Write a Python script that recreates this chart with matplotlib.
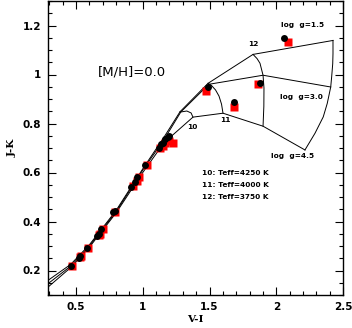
import matplotlib
matplotlib.use("Agg")
import matplotlib.pyplot as plt
from matplotlib.ticker import MultipleLocator

# model tracks (log g = 1.5, 3.0, 4.5)
g15_vi = [0.20, 0.46, 0.60, 0.80, 1.00, 1.16, 1.279, 1.489, 1.826, 2.425]
g15_jk = [0.125, 0.225, 0.305, 0.445, 0.615, 0.745, 0.848, 0.964, 1.082, 1.139]
g30_vi = [0.20, 0.46, 0.60, 0.80, 1.00, 1.16, 1.285, 1.495, 1.901, 2.408]
g30_jk = [0.108, 0.218, 0.300, 0.440, 0.610, 0.735, 0.847, 0.960, 0.997, 0.949]
g45_vi = [0.20, 0.46, 0.60, 0.80, 1.00, 1.16, 1.376, 1.601, 1.901, 2.215]
g45_jk = [0.090, 0.212, 0.295, 0.435, 0.600, 0.722, 0.826, 0.842, 0.789, 0.692]

# isotherms
arc10_vi = [1.279, 1.285, 1.33, 1.362, 1.376]
arc10_jk = [0.848, 0.847, 0.851, 0.843, 0.826]
arc11_vi = [1.489, 1.515, 1.545, 1.571, 1.590, 1.601]
arc11_jk = [0.964, 0.955, 0.937, 0.912, 0.879, 0.842]
arc12_vi = [1.826, 1.856, 1.878, 1.901, 1.908, 1.907, 1.901]
arc12_jk = [1.082, 1.065, 1.046, 0.997, 0.945, 0.870, 0.789]
arcend_vi = [2.425, 2.425, 2.423, 2.415, 2.408, 2.382, 2.352, 2.29, 2.215]
arcend_jk = [1.139, 1.085, 1.044, 0.99, 0.949, 0.882, 0.827, 0.76, 0.692]

# observed / comparison points
circ_vi = [0.46, 0.52, 0.53, 0.58, 0.66, 0.67, 0.69, 0.78, 0.79, 0.91, 0.94, 0.96,
           1.02, 1.12, 1.14, 1.15, 1.17, 1.19, 1.20, 1.49, 1.68, 1.88, 2.06]
circ_jk = [0.22, 0.253, 0.258, 0.29, 0.34, 0.35, 0.37, 0.437, 0.443, 0.54, 0.56, 0.58,
           0.63, 0.70, 0.715, 0.72, 0.735, 0.745, 0.75, 0.948, 0.887, 0.964, 1.147]
sq_vi = [0.47, 0.53, 0.54, 0.59, 0.67, 0.68, 0.70, 0.79, 0.93, 0.96, 0.97, 1.03,
         1.13, 1.15, 1.17, 1.20, 1.23, 1.47, 1.68, 1.86, 2.09]
sq_jk = [0.22, 0.255, 0.26, 0.29, 0.345, 0.35, 0.37, 0.44, 0.545, 0.565, 0.58, 0.63,
         0.70, 0.71, 0.72, 0.73, 0.72, 0.932, 0.867, 0.96, 1.131]

node_labels = ["10", "11", "12"]
node_lab_vi = [1.369, 1.616, 1.83]
node_lab_jk = [0.785, 0.814, 1.125]
legend_lines = ["10: Teff=4250 K", "11: Teff=4000 K", "12: Teff=3750 K"]

fig = plt.figure(figsize=(3.52, 3.28), dpi=100)
ax = fig.add_axes([48/352, 33/328, 295/352, 294/328])

lw = 0.7
for vi, jk in [(g15_vi, g15_jk), (g30_vi, g30_jk), (g45_vi, g45_jk),
               (arc10_vi, arc10_jk), (arc11_vi, arc11_jk), (arc12_vi, arc12_jk),
               (arcend_vi, arcend_jk)]:
    ax.plot(vi, jk, color="black", lw=lw, zorder=2)

ax.plot(sq_vi, sq_jk, ls="none", marker="s", ms=6.2, color="#ff0000", mec="none", zorder=3)
ax.plot(circ_vi, circ_jk, ls="none", marker="o", ms=5.0, color="black", mec="none", zorder=4)

ax.set_xlim(0.29, 2.5)
ax.set_ylim(0.1, 1.3)

fs_small = 5.3
for t, x, y in zip(node_labels, node_lab_vi, node_lab_jk):
    ax.text(x, y, t, fontsize=fs_small, fontweight="bold", ha="center", va="center")

ax.text(2.355, 1.2, "log  g=1.5", fontsize=fs_small, fontweight="bold", ha="right", va="center")
ax.text(2.19, 0.907, "log  g=3.0", fontsize=fs_small, fontweight="bold", ha="center", va="center")
ax.text(2.12, 0.667, "log  g=4.5", fontsize=fs_small, fontweight="bold", ha="center", va="center")

for i, t in enumerate(legend_lines):
    ax.text(1.444, 0.598 - i * 0.049, t, fontsize=fs_small, fontweight="bold", ha="left", va="center")

ax.text(0.66, 1.01, "[M/H]=0.0", fontsize=9.5, ha="left", va="center")

ax.xaxis.set_major_locator(MultipleLocator(0.5))
ax.xaxis.set_minor_locator(MultipleLocator(0.1))
ax.yaxis.set_major_locator(MultipleLocator(0.2))
ax.yaxis.set_minor_locator(MultipleLocator(0.05))
ax.set_xticks([0.5, 1.0, 1.5, 2.0, 2.5])
ax.set_xticklabels(["0.5", "1", "1.5", "2", "2.5"])
ax.set_yticks([0.2, 0.4, 0.6, 0.8, 1.0, 1.2])
ax.set_yticklabels(["0.2", "0.4", "0.6", "0.8", "1", "1.2"])
ax.tick_params(which="both", direction="in", top=True, right=True, width=0.8)
ax.tick_params(which="major", length=5.5, labelsize=7.5, pad=5)
ax.tick_params(which="minor", length=2.8)
for lab in ax.get_xticklabels() + ax.get_yticklabels():
    lab.set_fontweight("bold")
for s in ax.spines.values():
    s.set_linewidth(1.0)

ax.set_xlabel("V-I", fontsize=7.5, fontweight="bold", family="DejaVu Serif", labelpad=2)
ax.set_ylabel("J-K", fontsize=7.5, fontweight="bold", family="DejaVu Serif", labelpad=4)

fig.savefig("out.png", dpi=100)
